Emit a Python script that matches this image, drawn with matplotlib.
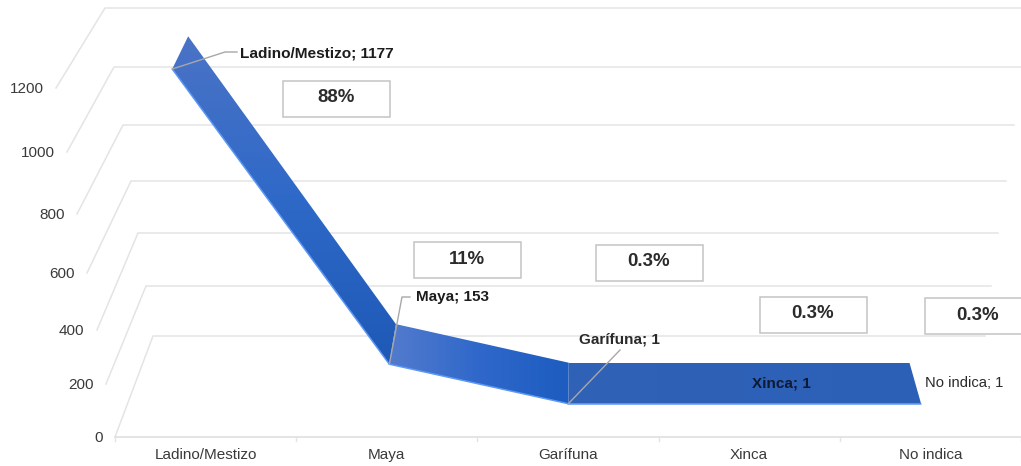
import numpy as np
import matplotlib
matplotlib.use("Agg")
import matplotlib.pyplot as plt
from matplotlib.colors import LinearSegmentedColormap
from matplotlib.patches import Polygon, Rectangle

categories = ["Ladino/Mestizo", "Maya", "Garífuna", "Xinca", "No indica"]
values = [1177, 153, 1, 1, 1]
shares = ["88%", "11%", "0.3%", "0.3%", "0.3%"]
y_ticks = [0, 200, 400, 600, 800, 1000, 1200]

W, H = 1021, 466

# the 3d box as it is seen in the picture, one entry per y tick (pixels)
front_left_x = [115, 106, 97, 87, 77, 67, 56]
front_y = [437, 384, 330, 273, 214, 152, 88]
back_left_x = [153, 146, 138, 131, 123, 114, 105]
back_y = [336, 286, 233, 181, 125, 67, 8]
back_right_x = [985, 991, 998, 1006, 1014, 1022, 1033]

RIBBON_FRONT = 0.327
RIBBON_BACK = 0.733
GRID = "#e4e4e4"
TEXT = "#3a3a3a"
LEADER = "#a8a8a8"
EDGE = "#5b97f5"
BOX = "#c4c4c4"


def project(pos, value, depth):
    # pos 0..1 along the category axis, depth 0 front .. 1 back wall
    fl = np.interp(value, y_ticks, front_left_x)
    fr = 1021 + (115 - fl)
    bl = np.interp(value, y_ticks, back_left_x)
    br = np.interp(value, y_ticks, back_right_x)
    left = fl + (bl - fl) * depth
    right = fr + (br - fr) * depth
    fy = np.interp(value, y_ticks, front_y)
    by = np.interp(value, y_ticks, back_y)
    return left + (right - left) * pos, fy + (by - fy) * depth


def centre(i):
    return (i + 0.5) / len(categories)


def gradient_quad(ax, pts, colors, vertical=False):
    xs, ys = zip(*pts)
    cmap = LinearSegmentedColormap.from_list("seg", colors)
    grad = np.linspace(0, 1, 256)
    grad = grad.reshape(-1, 1) if vertical else grad.reshape(1, -1)
    im = ax.imshow(grad, cmap=cmap, aspect="auto", zorder=3, interpolation="bilinear",
                   extent=(min(xs), max(xs), max(ys), min(ys)))
    im.set_clip_path(Polygon(pts, closed=True, transform=ax.transData))


fig = plt.figure(figsize=(W / 100, H / 100), dpi=100)
plt.rcParams["font.family"] = ["Liberation Sans", "DejaVu Sans"]
ax = fig.add_axes([0, 0, 1, 1])

# walls and floor grid
for i, v in enumerate(y_ticks):
    a = project(0, v, 0)
    b = project(0, v, 1)
    c = project(1, v, 1)
    ax.plot([a[0], b[0], c[0]], [a[1], b[1], c[1]], color=GRID, lw=1.1, zorder=1)
    ax.text(a[0] - 12.5, a[1] + 0.7, str(v), ha="right", va="center", fontsize=11, color=TEXT)

# category axis
ax.plot([project(0, 0, 0)[0], project(1, 0, 0)[0]], [front_y[0]] * 2, color=GRID, lw=1.4, zorder=1)
for i in range(len(categories) + 1):
    x = project(i / len(categories), 0, 0)[0]
    ax.plot([x, x], [front_y[0], front_y[0] + 4], color=GRID, lw=1, zorder=1)
for i, c in enumerate(categories):
    ax.text(project(centre(i), 0, 0)[0], 455, c, ha="center", va="center", fontsize=11, color=TEXT)

# ribbon, the flat run at the end is one piece
breaks = [(0, 1), (1, 2), (2, 4)]
seg_colors = [(["#4a73c6", "#2f69c8", "#1e59b6"], True),
              (["#537bcd", "#2f68ca", "#1d5cc0"], False),
              (["#3062b6", "#2c60b8"], False)]
for (i, j), (cols, vert) in zip(breaks, seg_colors):
    p0 = project(centre(i), values[i], RIBBON_FRONT)
    p1 = project(centre(j), values[j], RIBBON_FRONT)
    p2 = project(centre(j), values[j], RIBBON_BACK)
    p3 = project(centre(i), values[i], RIBBON_BACK)
    gradient_quad(ax, [p0, p1, p2, p3], cols, vert)
    ax.plot([p0[0], p1[0]], [p0[1], p1[1]], color=EDGE, lw=1.1, zorder=4, solid_capstyle="round")

# data labels
pts = [project(centre(i), values[i], RIBBON_FRONT) for i in range(len(categories))]
labels = ["{}; {}".format(c, v) for c, v in zip(categories, values)]

ax.plot([pts[0][0], 225, 237], [pts[0][1], 52, 52], color=LEADER, lw=1, zorder=5)
ax.text(240, 53, labels[0], ha="left", va="center", fontsize=11.1, fontweight="bold", color="#1c1c1c", zorder=6)
ax.plot([pts[1][0], 402, 410], [pts[1][1], 297, 297], color=LEADER, lw=1, zorder=5)
ax.text(416, 297, labels[1], ha="left", va="center", fontsize=11, fontweight="bold", color="#1c1c1c", zorder=6)
ax.plot([pts[2][0], 620], [pts[2][1], 350], color=LEADER, lw=1, zorder=5)
ax.text(579, 339, labels[2], ha="left", va="center", fontsize=11, fontweight="bold", color="#2a2a2a", zorder=6)
ax.text(781, 383, labels[3], ha="center", va="center", fontsize=11, fontweight="bold", color="#0e1a33", zorder=6)
ax.text(925, 383, labels[4], ha="left", va="center", fontsize=10.6, color="#2a2a2a", zorder=6)

# percentage boxes
box_left = [283, 414, 596, 760, 925]
box_top = [81, 242, 245, 297, 298]
for s, bx, by in zip(shares, box_left, box_top):
    ax.add_patch(Rectangle((bx, by), 107, 36, facecolor="white", edgecolor=BOX, lw=1.1, zorder=7))
    ax.text(bx + 53, by + 17, s, ha="center", va="center", fontsize=13.4, fontweight="bold",
            color="#2b2b2b", zorder=8)

ax.set_xlim(0, W)
ax.set_ylim(H, 0)
ax.axis("off")
fig.savefig("out.png", dpi=100, facecolor="white")
